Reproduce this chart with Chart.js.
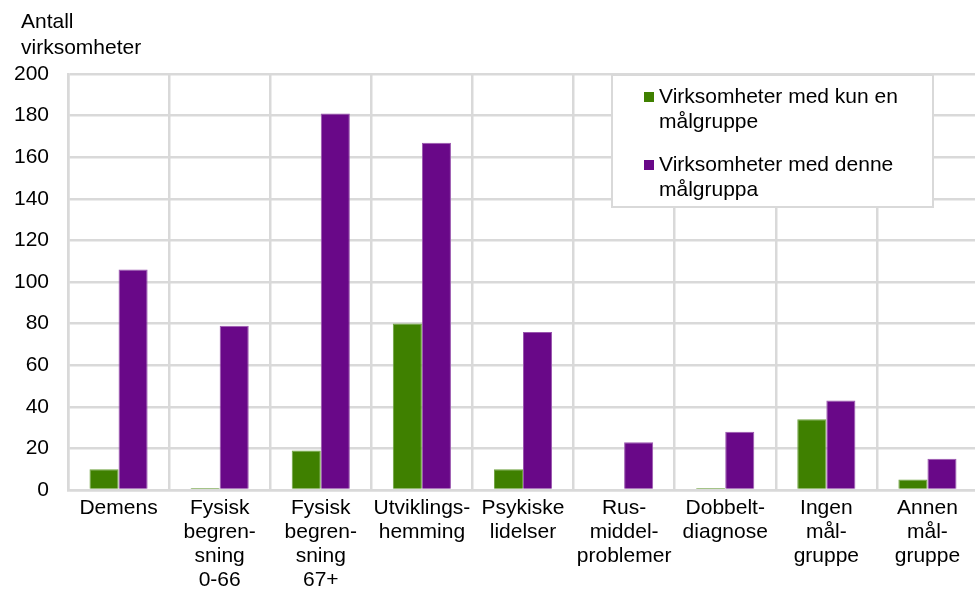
<!DOCTYPE html>
<html>
<head>
<meta charset="utf-8">
<script src="https://cdn.jsdelivr.net/npm/chart.js@4.4.1/dist/chart.umd.min.js"></script>
<style>
  html, body { margin: 0; padding: 0; background: #fff; overflow: hidden; }
  #wrap { position: relative; width: 975px; height: 590px; overflow: hidden; }
  canvas { display: block; }
</style>
</head>
<body>
<div id="wrap"><canvas id="c" width="979" height="590"></canvas></div>
<script>
// Target groups (multi-line tick labels)
const categories = [
  "Demens",
  ["Fysisk", "begren-", "sning", "0-66"],
  ["Fysisk", "begren-", "sning", "67+"],
  ["Utviklings-", "hemming"],
  ["Psykiske", "lidelser"],
  ["Rus-", "middel-", "problemer"],
  ["Dobbelt-", "diagnose"],
  ["Ingen", "mål-", "gruppe"],
  ["Annen", "mål-", "gruppe"]
];
// Number of businesses serving only this target group
const onlyThisGroup = [10, 1, 19, 80, 10, 0, 1, 34, 5];
// Number of businesses serving this target group
const withThisGroup = [106, 79, 181, 167, 76, 23, 28, 43, 15];

const seriesNames = [
  ["Virksomheter med kun en", "målgruppe"],
  ["Virksomheter med denne", "målgruppa"]
];
const axisTitle = ["Antall", "virksomheter"];
const yTicks = { min: 0, max: 200, step: 20 };

const FONT = "'Liberation Sans', Arial, sans-serif";
const FS = 21;
const GRID = "#d9d9d9";
const GREEN = "#3f8000";
const PURPLE = "#690888";

// Axis title at top-left and the boxed legend inside the plot
const overlay = {
  id: "overlay",
  afterDraw(chart) {
    const ctx = chart.ctx;
    ctx.save();
    ctx.fillStyle = "#000";
    ctx.font = FS + "px " + FONT;
    ctx.textBaseline = "middle";
    ctx.textAlign = "left";
    axisTitle.forEach((t, i) => ctx.fillText(t, 21, 22 + i * 26));

    // legend box
    const bx = 612, by = 75, bw = 321, bh = 132;
    ctx.fillStyle = "#fff";
    ctx.fillRect(bx, by, bw, bh);
    ctx.strokeStyle = GRID;
    ctx.lineWidth = 2;
    ctx.strokeRect(bx, by, bw, bh);
    const starts = [97, 165];
    chart.data.datasets.forEach((ds, i) => {
      const y0 = starts[i];
      ctx.fillStyle = ds.backgroundColor;
      ctx.fillRect(644, y0 - 5, 10, 10);
      ctx.fillStyle = "#000";
      seriesNames[i].forEach((line, j) => ctx.fillText(line, 659, y0 + j * 25));
    });
    ctx.restore();
  }
};

new Chart(document.getElementById("c"), {
  type: "bar",
  data: {
    labels: categories,
    datasets: [
      { label: seriesNames[0].join(" "), data: onlyThisGroup, backgroundColor: GREEN,
        borderColor: "#6ea23f", borderWidth: 1, borderSkipped: "bottom" },
      { label: seriesNames[1].join(" "), data: withThisGroup, backgroundColor: PURPLE,
        borderColor: "#9a56ae", borderWidth: 1, borderSkipped: "bottom" }
    ]
  },
  options: {
    responsive: false,
    animation: false,
    layout: { padding: { top: 74, right: 1, bottom: 0, left: 0 } },
    categoryPercentage: 0.575,
    barPercentage: 1,
    plugins: {
      legend: { display: false },
      tooltip: { enabled: false },
      title: { display: false }
    },
    scales: {
      x: {
        grid: { color: GRID, lineWidth: 2.5, offset: true, drawTicks: false },
        border: { color: GRID, width: 2.5 },
        ticks: {
          color: "#000",
          font: { family: FONT, size: FS, lineHeight: 24 / FS },
          padding: 6,
          maxRotation: 0,
          autoSkip: false
        },
        afterFit(scale) { scale.height = 100; }
      },
      y: {
        min: yTicks.min,
        max: yTicks.max,
        grid: { color: GRID, lineWidth: 2.5, drawTicks: false },
        border: { color: GRID, width: 2.5 },
        ticks: {
          stepSize: yTicks.step,
          color: "#000",
          font: { family: FONT, size: FS },
          padding: 19
        },
        afterFit(scale) { scale.width = 68; }
      }
    }
  },
  plugins: [overlay]
});
</script>
</body>
</html>
